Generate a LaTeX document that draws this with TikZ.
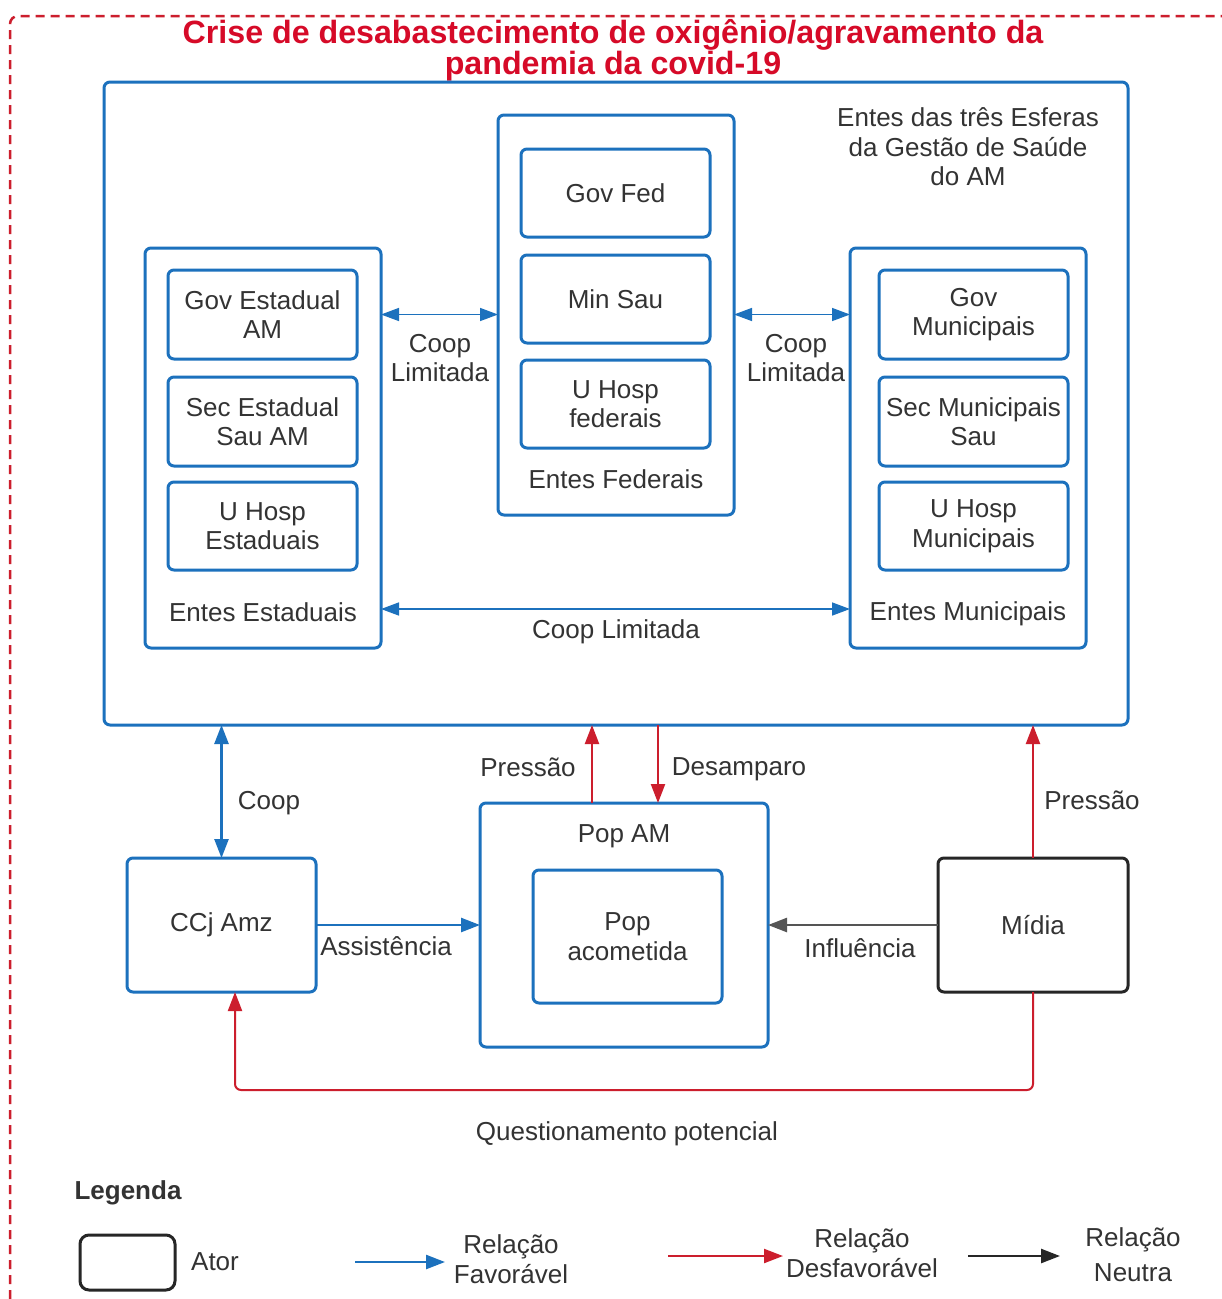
\documentclass[tikz,border=0pt]{standalone}
\usepackage{fontspec}
\setmainfont{Liberation Sans}
\usetikzlibrary{arrows.meta}
\definecolor{myblue}{RGB}{28,113,189}
\definecolor{myred}{RGB}{204,30,45}
\definecolor{titlered}{RGB}{214,10,40}
\definecolor{txt}{RGB}{51,51,51}
\definecolor{neutral}{RGB}{85,85,85}
\begin{document}
\begin{tikzpicture}[x=1pt,y=-1pt,
  every node/.style={text=txt, font=\fontsize{26}{29.5}\selectfont, inner sep=0pt, outer sep=0pt, align=center},
  bbox/.style={draw=myblue, line width=3pt, rounded corners=6pt},
  inbox/.style={bbox, minimum width=189pt, minimum height=88pt},
  blackbox/.style={draw=black!85, line width=3pt, rounded corners=6pt},
  tipA/.style={-{Triangle[length=19pt,width=14pt]}},
  fav/.style={draw=myblue, line width=2.5pt, tipA},
  favboth/.style={draw=myblue, line width=2.5pt, {Triangle[length=19pt,width=14pt]}-{Triangle[length=19pt,width=14pt]}},
  favthin/.style={draw=myblue, line width=1.5pt, {Triangle[length=18pt,width=13pt]}-{Triangle[length=18pt,width=13pt]}},
  unfav/.style={draw=myred, line width=2.2pt, tipA},
  neut/.style={draw=neutral, line width=2.5pt, tipA},
]
\useasboundingbox (0,0) rectangle (1222,1299);
\fill[white] (0,0) rectangle (1222,1299);

% dashed frame
\draw[myred, line width=2.5pt, dash pattern=on 9pt off 6pt, rounded corners=8pt]
  (10,1299) -- (10,16) -- (1222,16);

% title
\node[text=titlered, font=\fontsize{32.2}{30}\selectfont\bfseries] (title) at (613,50)
  {Crise de desabastecimento de oxigênio/agravamento da\\pandemia da covid-19};

% outer container
\node[bbox, minimum width=1024pt, minimum height=643pt] (outer) at (616,403.5) {};
\node (esferas) at (968,147) {Entes das três Esferas\\da Gestão de Saúde\\do AM};

% federal
\node[bbox, minimum width=236pt, minimum height=400pt] (fed) at (616,315) {};
\node[inbox] (govfed) at (615.5,193) {Gov Fed};
\node[inbox] (minsau) at (615.5,299) {Min Sau};
\node[inbox] (uhfed) at (615.5,404) {U Hosp\\federais};
\node (fedlbl) at (616,479) {Entes Federais};

% state
\node[bbox, minimum width=236pt, minimum height=400pt] (state) at (263,448) {};
\node[inbox, minimum height=89pt] (govest) at (262.5,314.5) {Gov Estadual\\AM};
\node[inbox, minimum height=89pt] (secest) at (262.5,421.5) {Sec Estadual\\Sau AM};
\node[inbox] (uhest) at (262.5,526) {U Hosp\\Estaduais};
\node (estlbl) at (263,612) {Entes Estaduais};

% municipal
\node[bbox, minimum width=236pt, minimum height=400pt] (mun) at (968,448) {};
\node[inbox, minimum height=89pt] (govmun) at (973.5,314.5) {Gov\\Municipais};
\node[inbox, minimum height=89pt] (secmun) at (973.5,421.5) {Sec Municipais\\Sau};
\node[inbox] (uhmun) at (973.5,526) {U Hosp\\Municipais};
\node (munlbl) at (968,614) {Entes Municipais};

% cooperation arrows inside
\draw[favthin] (state.east |- govest) -- (fed.west |- govest);
\node (cl1) at (440,358) {Coop\\Limitada};
\draw[favthin] (fed.east |- govmun) -- (mun.west |- govmun);
\node (cl2) at (796,358) {Coop\\Limitada};
\coordinate (clb) at (616,609);
\draw[favthin] (state.east |- clb) -- (mun.west |- clb);
\node (cl3) at (616,632) {Coop Limitada};

% lower actors
\node[bbox, minimum width=189pt, minimum height=134pt] (ccj) at (221.5,925) {CCj Amz};
\node[bbox, minimum width=288pt, minimum height=244pt] (popam) at (624,925) {};
\node (popamlbl) at (624,836) {Pop AM};
\node[bbox, minimum width=189pt, minimum height=133pt] (popac) at (627.5,936.5) {Pop\\acometida};
\node[blackbox, minimum width=190pt, minimum height=134pt] (midia) at (1033,925) {Mídia};

% relations
\draw[favboth] (outer.south -| ccj) -- (ccj.north);
\node (cooplbl) at (269,803) {Coop};

\coordinate (px) at (592,0);
\coordinate (dx) at (658,0);
\draw[unfav] (popam.north -| px) -- (outer.south -| px);
\node (pres1) at (528,767) {Pressão};
\draw[unfav] (outer.south -| dx) -- (popam.north -| dx);
\node (desamp) at (739,769) {Desamparo};

\draw[unfav] (midia.north) -- (outer.south -| midia);
\node (pres2) at (1092,800) {Pressão};

\draw[fav] (ccj.east) -- (popam.west);
\node (assist) at (386,946) {Assistência};
\draw[neut] (midia.west) -- (popam.east);
\node (influ) at (860,948) {Influência};

\coordinate (qx) at (235,0);
\draw[unfav, line width=2pt, rounded corners=6pt] (midia.south) -- ++(0,98) -| (ccj.south -| qx);
\node (quest) at (627,1134) {Questionamento potencial};

% legend
\node[font=\fontsize{26}{29.5}\selectfont\bfseries] (legenda) at (128,1193) {Legenda};
\node[blackbox, rounded corners=9pt, minimum width=95pt, minimum height=55pt] (legbox) at (127.5,1262.5) {};
\node (ator) at (215,1262) {Ator};
\coordinate (lf1) at (355,1262);
\coordinate (lf2) at (445,1262);
\draw[fav] (lf1) -- (lf2);
\node (favlbl) at (511,1259) {Relação\\Favorável};
\coordinate (ld1) at (668,1256);
\coordinate (ld2) at (783,1256);
\draw[unfav] (ld1) -- (ld2);
\node (deslbl) at (862,1253) {Relação\\Desfavorável};
\coordinate (ln1) at (968,1256);
\coordinate (ln2) at (1060,1256);
\draw[draw=black!85, line width=2.5pt, tipA] (ln1) -- (ln2);
\node[font=\fontsize{26}{35}\selectfont] (neulbl) at (1133,1255) {Relação\\Neutra};
\end{tikzpicture}
\end{document}
